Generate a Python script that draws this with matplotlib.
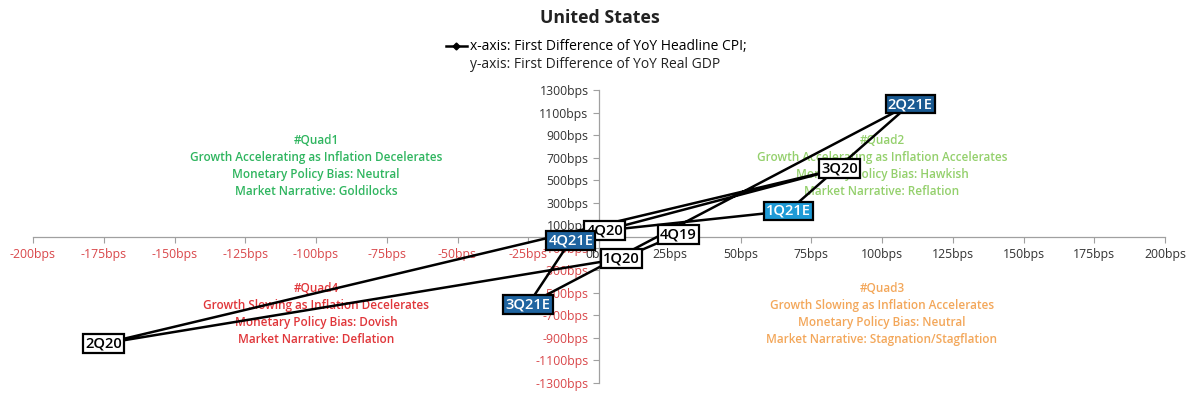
import matplotlib
matplotlib.use("Agg")
import numpy as np
import matplotlib.pyplot as plt
from matplotlib.lines import Line2D

plt.rcParams['font.family'] = ['Open Sans', 'DejaVu Sans']

# quarters and their coordinates (bps)
quarters = ["4Q19", "1Q20", "2Q20", "3Q20", "4Q20", "1Q21E", "2Q21E", "3Q21E", "4Q21E"]
cpi_diff = [28, 8, -175, 85, 2, 67, 110, -25, -10]
gdp_diff = [20, -195, -950, 603, 53, 227, 1175, -603, -35]
box_fill = ["white", "white", "white", "white", "white", "#1e9ad6", "#1a5a92", "#1f64a0", "#1f64a0"]
box_text = ["black", "black", "black", "black", "black", "white", "white", "white", "white"]

xticks = np.arange(-200, 201, 25)
yticks = np.arange(-1300, 1301, 200)

quad_names = ["#Quad1", "#Quad2", "#Quad3", "#Quad4"]
quad_lines = [
    ["Growth Accelerating as Inflation Decelerates", "Monetary Policy Bias: Neutral", "Market Narrative: Goldilocks"],
    ["Growth Accelerating as Inflation Accelerates", "Monetary Policy Bias: Hawkish", "Market Narrative: Reflation"],
    ["Growth Slowing as Inflation Accelerates", "Monetary Policy Bias: Neutral", "Market Narrative: Stagnation/Stagflation"],
    ["Growth Slowing as Inflation Decelerates", "Monetary Policy Bias: Dovish", "Market Narrative: Deflation"],
]
quad_pos = [(-100, 625), (100, 625), (100, -688), (-100, -688)]
quad_colors = ["#2fb55f", "#94d06c", "#f3a75a", "#e0363a"]

fig = plt.figure(figsize=(12, 4), dpi=100)
ax = fig.add_axes([33 / 1200, 1 - 383 / 400, (1165 - 33) / 1200, (383 - 90) / 400])

ax.set_xlim(-200, 200)
ax.set_ylim(-1300, 1300)

for name, lines, (qx, qy), col in zip(quad_names, quad_lines, quad_pos, quad_colors):
    ax.text(qx, qy, name + "\n" + "\n".join(lines), ha='center', va='center',
            color=col, fontsize=8.5, fontweight='semibold', linespacing=1.38, zorder=1)

ax.plot(cpi_diff, gdp_diff, color='black', lw=1.8, zorder=3)

for q, x, y, fc, tc in zip(quarters, cpi_diff, gdp_diff, box_fill, box_text):
    ax.text(x, y, q, ha='center', va='center', fontsize=10.5, fontweight='semibold',
            color=tc, zorder=4,
            bbox=dict(boxstyle='square,pad=0.16', fc=fc, ec='black', lw=1.6))

for s in ['top', 'right']:
    ax.spines[s].set_visible(False)
ax.spines['left'].set_position(('data', 0))
ax.spines['bottom'].set_position(('data', 0))
for s in ['left', 'bottom']:
    ax.spines[s].set_color('#a0a0a0')
    ax.spines[s].set_linewidth(0.9)

ax.set_xticks(xticks)
ax.set_xticklabels([f"{v}bps" for v in xticks])
ax.set_yticks(yticks)
ax.set_yticklabels([f"{v}bps" for v in yticks])
ax.tick_params(axis='both', labelsize=8.8, color='#a0a0a0', length=4, width=0.8)
ax.tick_params(axis='x', pad=4)
for lab, v in zip(ax.get_xticklabels(), xticks):
    lab.set_color('#d9474a' if v < 0 else '#333333')
for lab, v in zip(ax.get_yticklabels(), yticks):
    lab.set_color('#d9474a' if v < 0 else '#333333')

fig.text(0.5, 1 - 18 / 400, "United States", ha='center', va='center',
         fontsize=12.8, fontweight='bold', color='#222222')

handle = Line2D([], [], color='black', lw=1.8, marker='D', markersize=3.5)
fig.legend(handles=[handle], labels=["x-axis: First Difference of YoY Headline CPI;"],
           loc='center left', bbox_to_anchor=(446 / 1200, 1 - 47 / 400), frameon=False,
           fontsize=10, handlelength=1.5, handletextpad=0.2, borderpad=0, borderaxespad=0)
fig.text(470 / 1200, 1 - 64 / 400, "y-axis: First Difference of YoY Real GDP",
         ha='left', va='center', fontsize=10, color='#222222')

fig.savefig("out.png", dpi=100)
